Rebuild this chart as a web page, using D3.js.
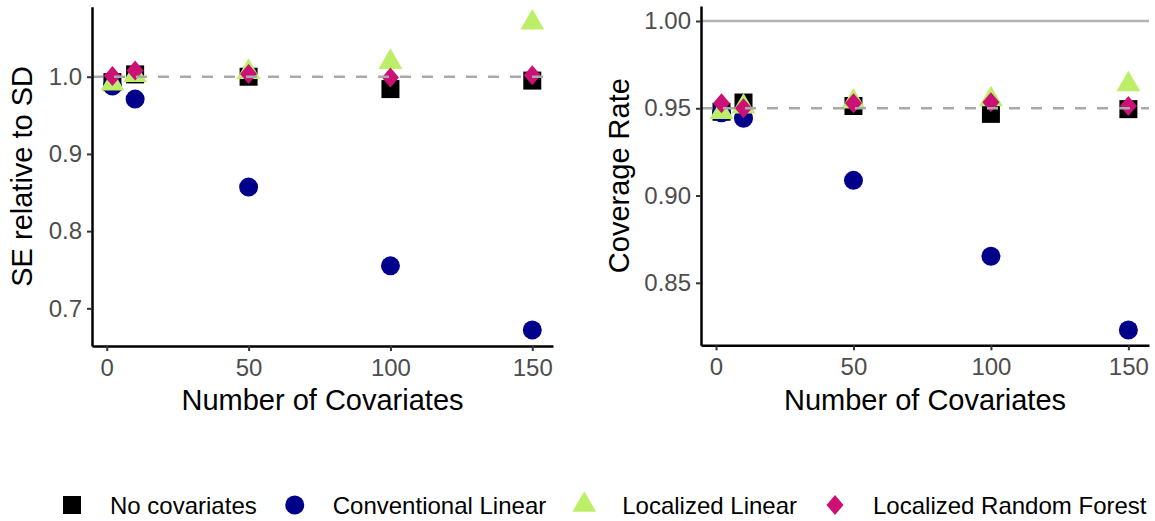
<!DOCTYPE html>
<meta charset="utf-8" />
<script src="https://d3js.org/d3.v7.min.js"></script>
<style>
  body { margin: 0; background: #fff; }
</style>
<div id="chart"></div>
<script>
  // number of covariates on the x axis
  const covariates = [2, 10, 50, 100, 150];
  const methods = ["No covariates", "Conventional Linear", "Localized Linear", "Localized Random Forest"];

  // left panel: SE relative to SD
  const seNoCov = [0.993, 1.003, 1.0, 0.984, 0.995];
  const seConvLinear = [0.988, 0.971, 0.857, 0.755, 0.672];
  const seLocLinear = [0.991, 1.002, 1.006, 1.019, 1.07];
  const seLocRF = [1.001, 1.008, 1.0035, 0.999, 1.002];

  // right panel: coverage rate
  const covNoCov = [0.948, 0.9533, 0.9513, 0.9468, 0.9495];
  const covConvLinear = [0.9474, 0.9443, 0.9087, 0.8652, 0.823];
  const covLocLinear = [0.9478, 0.9509, 0.9538, 0.9551, 0.9637];
  const covLocRF = [0.9529, 0.95, 0.9529, 0.9534, 0.9513];

  const xTicks = [0, 50, 100, 150];
  const seTicks = [0.7, 0.8, 0.9, 1.0];
  const covTicks = [0.85, 0.9, 0.95, 1.0];

  const colors = ["#000000", "#00008B", "#BCEE68", "#CD1076"];
  const font = "'Liberation Sans', Arial, Helvetica, sans-serif";

  const W = 1155, H = 521;
  const svg = d3.select("#chart").append("svg")
    .attr("width", W).attr("height", H)
    .style("display", "block")
    .style("background", "#fff")
    .style("font-family", font);

  // draw one marker of method i at (cx, cy)
  function marker(g, i, cx, cy) {
    if (i === 0) {
      g.append("rect").attr("x", cx - 9).attr("y", cy - 9)
        .attr("width", 18).attr("height", 18).attr("fill", colors[0]);
    } else if (i === 1) {
      g.append("circle").attr("cx", cx).attr("cy", cy).attr("r", 9.5).attr("fill", colors[1]);
    } else if (i === 2) {
      g.append("path").attr("transform", `translate(${cx},${cy})`)
        .attr("d", d3.symbol(d3.symbolTriangle, 245)()).attr("fill", colors[2]);
    } else {
      g.append("path")
        .attr("d", `M${cx},${cy - 10}L${cx + 8.5},${cy}L${cx},${cy + 10}L${cx - 8.5},${cy}Z`)
        .attr("fill", colors[3]);
    }
  }

  function panel(opt) {
    const x = d3.scaleLinear().domain(opt.xDomain).range([opt.left, opt.right]);
    const y = d3.scaleLinear().domain(opt.yDomain).range([opt.bottom, opt.top]);
    const g = svg.append("g");

    // points, in legend order
    opt.series.forEach((vals, i) => {
      vals.forEach((v, j) => marker(g, i, x(covariates[j]), y(v)));
    });

    // reference lines
    if (opt.solidAt !== undefined) {
      g.append("line").attr("x1", opt.left).attr("x2", opt.right)
        .attr("y1", y(opt.solidAt)).attr("y2", y(opt.solidAt))
        .attr("stroke", "#b3b3b3").attr("stroke-width", 2.5);
    }
    g.append("line").attr("x1", opt.left).attr("x2", opt.right)
      .attr("y1", y(opt.dashAt)).attr("y2", y(opt.dashAt))
      .attr("stroke", "#a9a9a9").attr("stroke-width", 2.5)
      .attr("stroke-dasharray", "11,11");

    // axes
    const xa = g.append("g").attr("transform", `translate(0,${opt.bottom})`)
      .call(d3.axisBottom(x).tickValues(xTicks).tickFormat(d3.format("d"))
        .tickSize(5).tickSizeOuter(0).tickPadding(8));
    const ya = g.append("g").attr("transform", `translate(${opt.left},0)`)
      .call(d3.axisLeft(y).tickValues(opt.yTicks).tickFormat(d3.format(opt.yFormat))
        .tickSize(5).tickSizeOuter(0).tickPadding(5));
    [xa, ya].forEach((a) => {
      a.select(".domain").attr("stroke", "#000").attr("stroke-width", 2.5);
      a.selectAll(".tick line").attr("stroke", "#333").attr("stroke-width", 2);
      a.selectAll(".tick text").attr("fill", "#4d4d4d")
        .style("font-size", "24px").style("font-family", font);
    });

    // titles
    g.append("text").attr("x", (opt.left + opt.right) / 2).attr("y", 410)
      .attr("text-anchor", "middle").style("font-size", "29px").attr("fill", "#000")
      .text("Number of Covariates");
    g.append("text")
      .attr("transform", `translate(${opt.yTitleX},${(opt.top + opt.bottom) / 2}) rotate(-90)`)
      .attr("text-anchor", "middle").style("font-size", "29px").attr("fill", "#000")
      .text(opt.yTitle);
  }

  panel({
    left: 92, right: 553, top: 6.7, bottom: 346,
    xDomain: [-5.2, 157.3], yDomain: [0.6512, 1.0907],
    yTicks: seTicks, yFormat: ".1f", yTitle: "SE relative to SD", yTitleX: 32,
    series: [seNoCov, seConvLinear, seLocLinear, seLocRF], dashAt: 1.0
  });

  panel({
    left: 701, right: 1149, top: 6, bottom: 345.3,
    xDomain: [-5.46, 157.5], yDomain: [0.8142, 1.0086],
    yTicks: covTicks, yFormat: ".2f", yTitle: "Coverage Rate", yTitleX: 629,
    series: [covNoCov, covConvLinear, covLocLinear, covLocRF], dashAt: 0.95, solidAt: 1.0
  });

  // legend along the bottom
  const leg = svg.append("g");
  let lx = 72;
  const ly = 505;
  methods.forEach((m, i) => {
    marker(leg, i, lx, ly);
    const t = leg.append("text").attr("x", lx + 38).attr("y", ly + 8.5)
      .style("font-size", "24px").attr("fill", "#000").text(m);
    lx = lx + 38 + t.node().getComputedTextLength() + 38;
  });
</script>
